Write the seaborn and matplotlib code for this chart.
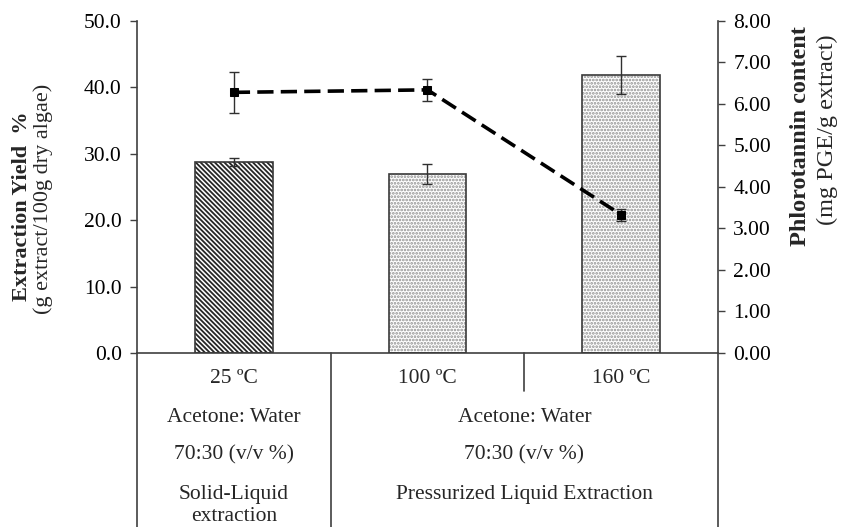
import numpy as np
import pandas as pd
import matplotlib
matplotlib.use("Agg")
import matplotlib.pyplot as plt
import matplotlib.transforms as mtransforms
from matplotlib.lines import Line2D
import seaborn as sns

# ---- data ----
categories = ["25 ºC", "100 ºC", "160 ºC"]
yield_vals = [28.8, 27.0, 41.9]
yield_err = [0.6, 1.5, 2.9]
phloro_vals = [6.28, 6.34, 3.33]
phloro_err = [0.50, 0.26, 0.14]
solvent_labels = ["Acetone: Water", "Acetone: Water"]
ratio_labels = ["70:30 (v/v %)", "70:30 (v/v %)"]
method_labels = ["Solid-Liquid\nextraction", "Pressurized Liquid Extraction"]

sns.set_style("ticks")
plt.rcParams["font.family"] = ["Liberation Serif", "DejaVu Serif"]
plt.rcParams["hatch.linewidth"] = 1.3

dark = "#404040"
fs = 15.5

df = pd.DataFrame({"cat": categories, "yield": yield_vals})

fig = plt.figure(figsize=(8.45, 5.27), dpi=100)
ax = fig.add_axes([0.1621, 0.3302, 0.6876, 0.6300])

# hatched fill layer
sns.barplot(data=df, x="cat", y="yield", width=0.4, errorbar=None,
            color="white", ax=ax, zorder=2)
hatches = ["\\" * 7, ".....", "....."]
hcols = ["#262626", "#909090", "#909090"]
for p, h, c in zip(ax.patches, hatches, hcols):
    p.set_hatch(h)
    p.set_edgecolor(c)
    p.set_linewidth(0)
# outline layer
sns.barplot(data=df, x="cat", y="yield", width=0.4, errorbar=None,
            fill=False, edgecolor="#3a3a3a", linewidth=1.2, ax=ax, zorder=3)

pos = np.arange(len(categories))
ax.errorbar(pos, yield_vals, yerr=yield_err, fmt="none", ecolor="#303030",
            elinewidth=1.0, capsize=3.5, capthick=1.0, zorder=4)

ax.set_ylim(0, 50)
ax.set_yticks(np.arange(0, 50.1, 10))
ax.set_yticklabels([f"{v:.1f}" for v in np.arange(0, 50.1, 10)])
ax.set_xlim(-0.5, 2.5)
ax.set_xticks([])
ax.set_xlabel("")
ax.set_ylabel("")
ax.tick_params(axis="y", direction="out", length=5, width=1.0, color=dark,
               labelsize=fs, pad=6, labelcolor="black")
for s in ["top", "right"]:
    ax.spines[s].set_visible(False)
for s in ["left", "bottom"]:
    ax.spines[s].set_color(dark)
    ax.spines[s].set_linewidth(1.2)

# secondary axis: phlorotannin content
ax2 = ax.twinx()
sns.lineplot(x=pos, y=phloro_vals, ax=ax2, color="black", linewidth=2.6,
             marker="s", markersize=5.5, markeredgecolor="black",
             dashes=False, zorder=5)
ax2.lines[0].set_linestyle((0, (4.5, 2)))
ax2.errorbar(pos, phloro_vals, yerr=phloro_err, fmt="none", ecolor="#303030",
             elinewidth=1.0, capsize=3.5, capthick=1.0, zorder=4)
ax2.set_ylim(0, 8)
ax2.set_yticks(np.arange(0, 8.01, 1))
ax2.set_yticklabels([f"{v:.2f}" for v in np.arange(0, 8.01, 1)])
ax2.tick_params(axis="y", direction="out", length=5, width=1.0, color=dark,
                labelsize=fs, pad=6, labelcolor="black")
for s in ["top", "left", "bottom"]:
    ax2.spines[s].set_visible(False)
ax2.spines["right"].set_color(dark)
ax2.spines["right"].set_linewidth(1.2)

# axis titles
fig.text(0.026, 0.609, "Extraction Yield  %", rotation=90, ha="center",
         va="center", fontsize=16, fontweight="bold")
fig.text(0.051, 0.622, "(g extract/100g dry algae)", rotation=90, ha="center",
         va="center", fontsize=16)
fig.text(0.947, 0.742, "Phlorotannin content", rotation=90, ha="center",
         va="center", fontsize=17.5, fontweight="bold")
fig.text(0.979, 0.753, "(mg PGE/g extract)", rotation=90, ha="center",
         va="center", fontsize=17.5)

# table below the axis
tr = mtransforms.blended_transform_factory(ax.transData, fig.transFigure)
ybot = 0.3302
for xv, ytop in [(-0.5, 0.0), (0.5, 0.0), (1.5, 0.258), (2.5, 0.0)]:
    fig.add_artist(Line2D([xv, xv], [ytop, ybot], transform=tr,
                          color=dark, linewidth=1.2))

for i, c in enumerate(categories):
    fig.text(pos[i], 0.2827, c, transform=tr, ha="center", va="center",
             fontsize=fs)
group_x = [0.0, 1.5]
for gx, s1, s2, m in zip(group_x, solvent_labels, ratio_labels, method_labels):
    fig.text(gx, 0.2087, s1, transform=tr, ha="center", va="center", fontsize=fs)
    fig.text(gx, 0.1366, s2, transform=tr, ha="center", va="center", fontsize=fs)
    lines = m.split("\n")
    fig.text(gx, 0.0626, lines[0], transform=tr, ha="center", va="center",
             fontsize=fs)
    if len(lines) > 1:
        fig.text(gx, 0.019, lines[1], transform=tr, ha="center",
                 va="center", fontsize=fs)

fig.savefig("out.png", dpi=100)
